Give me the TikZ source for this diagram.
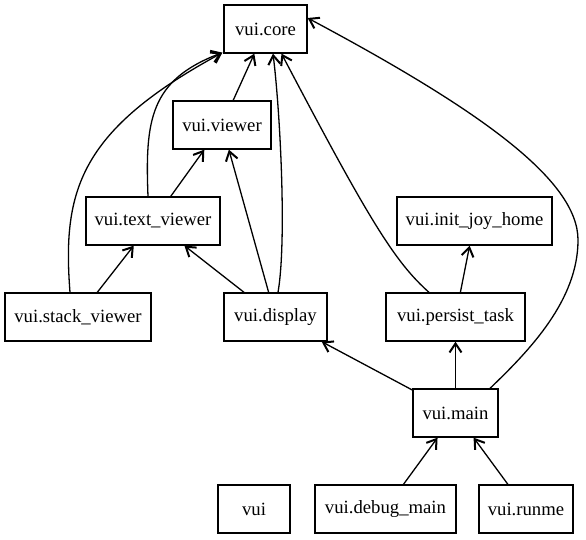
\documentclass[tikz,border=0pt]{standalone}
\usepackage{fontspec}
\setmainfont{Liberation Serif}
\newfontfamily\dotfont{Liberation Serif}
\usetikzlibrary{arrows.meta}
\begin{document}
\begin{tikzpicture}[x=1pt,y=-1pt,
  box/.style={draw, line width=1.3pt, rectangle, inner sep=0pt, minimum height=48pt, font=\dotfont\fontsize{18.7}{22}\selectfont},
  edge/.style={line width=1.3pt, -{Straight Barb[length=9pt,width=12pt,line width=2pt]}}]
\useasboundingbox (0,0) rectangle (586,539);
\node[box, minimum width=83pt]  (core)  at (265.5,29) {vui.core};
\node[box, minimum width=98pt]  (viewer) at (222,125) {vui.viewer};
\node[box, minimum width=134pt] (text)  at (153,221) {vui.text\_viewer};
\node[box, minimum width=155pt] (init)  at (474.5,221) {vui.init\_joy\_home};
\node[box, minimum width=146pt] (stack) at (78,317) {vui.stack\_viewer};
\node[box, minimum width=103pt] (display) at (275.5,317) {vui.display};
\node[box, minimum width=139pt] (persist) at (455.5,317) {vui.persist\_task};
\node[box, minimum width=85pt]  (main)  at (455.5,413) {vui.main};
\node[box, minimum width=72pt]  (vui)   at (254,509) {vui};
\node[box, minimum width=141pt] (debug) at (385.5,509) {vui.debug\_main};
\node[box, minimum width=94pt]  (runme) at (526,509) {vui.runme};

\draw[edge] (viewer) -- (core);
\draw[edge] (text) -- (viewer);
\draw[edge] (stack) -- (text);
\draw[edge] (display) -- (text);
\draw[edge] (display) -- (viewer);
\draw[edge] (persist) -- (init);
\draw[edge] (main) -- (display);
\draw[edge] (main) -- (persist);
\draw[edge] (debug) -- (main);
\draw[edge] (runme) -- (main);

\draw[edge] ([xshift=-5pt]text.north) .. controls (145,120) and (150,80) .. ([xshift=-1pt,yshift=1pt]core.south west);
\draw[edge] ([xshift=-8pt]stack.north) .. controls (62,190) and (80,130) .. ([xshift=-1pt,yshift=1pt]core.south west);
\draw[edge] ([xshift=2.5pt]display.north) .. controls (287,240) and (280,110) .. ([xshift=7.5pt]core.south);
\draw[edge] ([xshift=-26.5pt]persist.north) .. controls (395,262) and (370,222) .. ([xshift=16pt]core.south);
\draw[edge] ([xshift=34.5pt]main.north) .. controls (530,350) and (578,300) .. (578,240)
   .. controls (578,180) and (480,110) .. ([yshift=11pt]core.east);
\end{tikzpicture}
\end{document}
